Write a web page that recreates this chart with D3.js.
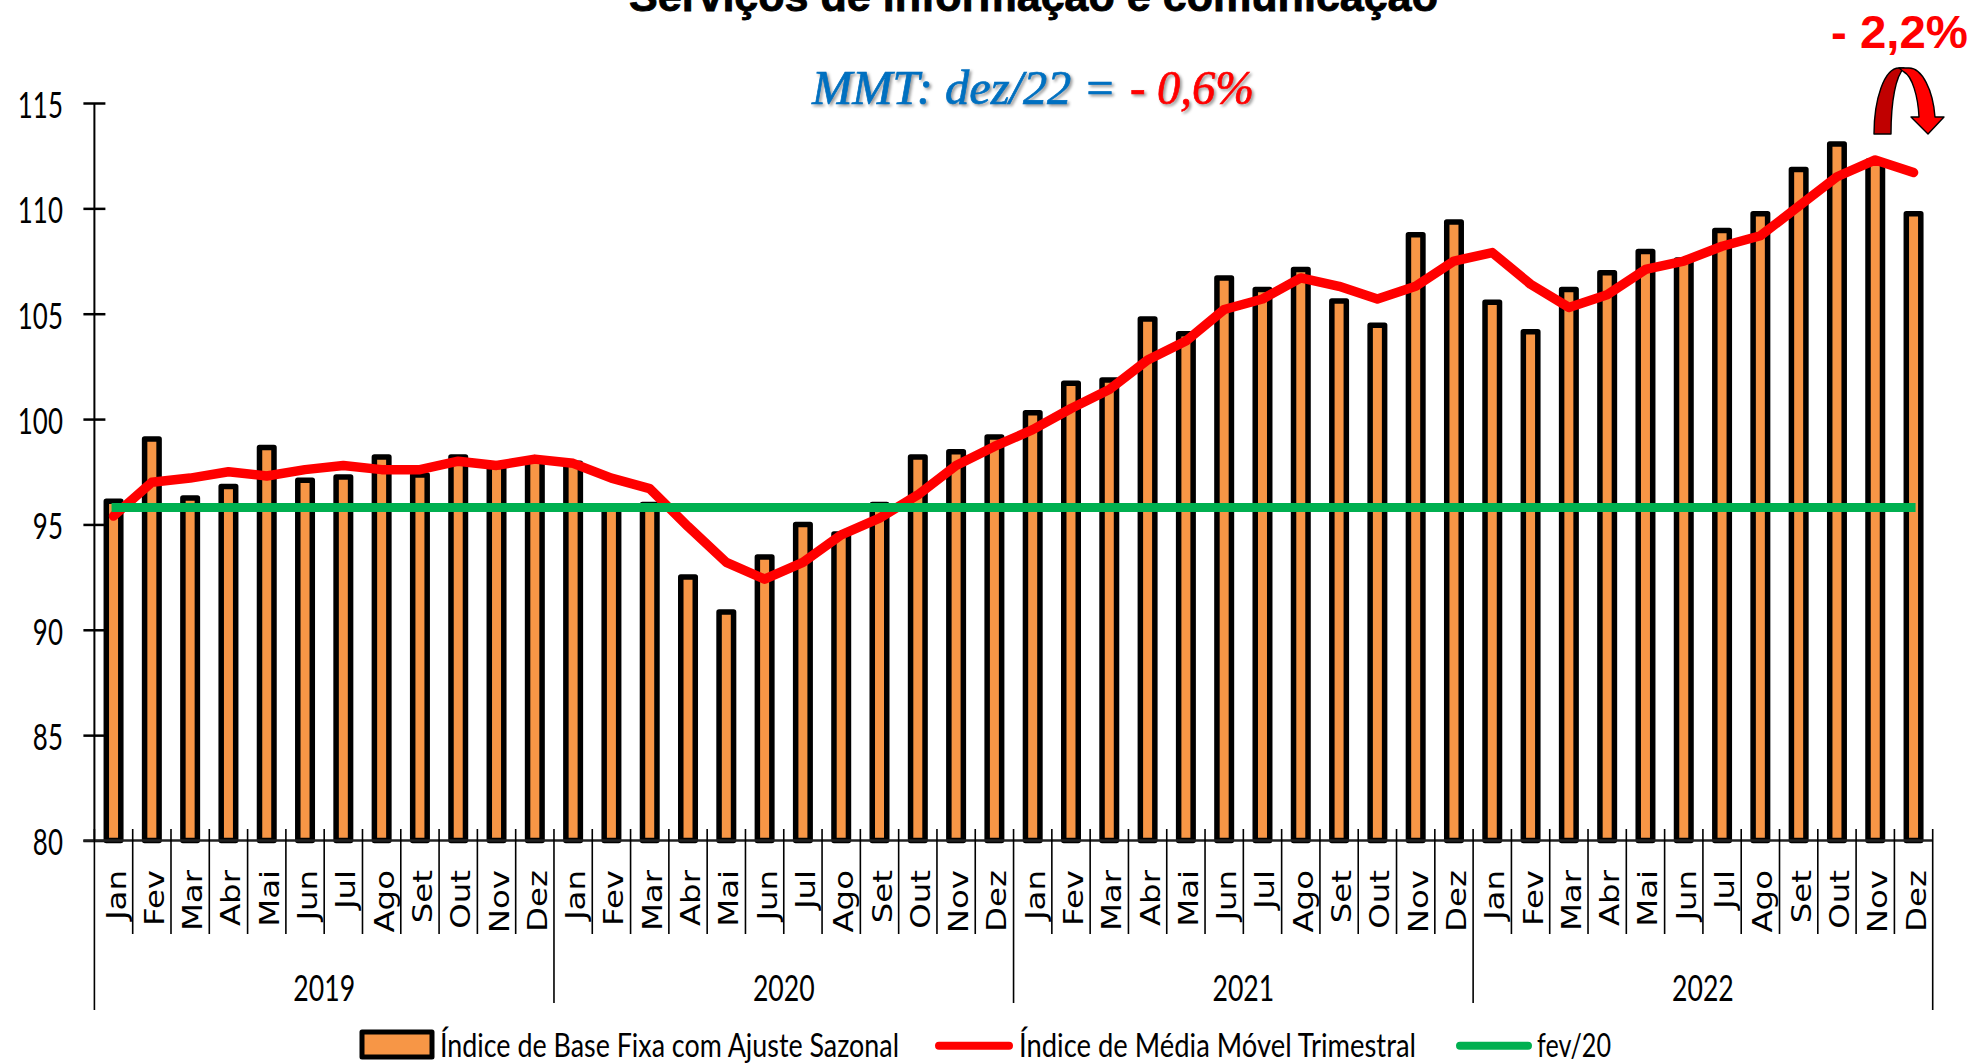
<!DOCTYPE html>
<html>
<head>
<meta charset="utf-8">
<script src="https://cdn.jsdelivr.net/npm/d3@7"></script>
<style>
	html, body { margin: 0; padding: 0; background: #fff; overflow: hidden; }
	svg { display: block; }
</style>
</head>
<body>
<script>
const width = 1973
const height = 1064

// Values
const months = ['Jan', 'Fev', 'Mar', 'Abr', 'Mai', 'Jun', 'Jul', 'Ago', 'Set', 'Out', 'Nov', 'Dez']
const years = ['2019', '2020', '2021', '2022']
const yTicks = [80, 85, 90, 95, 100, 105, 110, 115]
const fixedIndex = [
	96.1, 99.05, 96.25, 96.8, 98.65, 97.1, 97.25, 98.2, 97.35, 98.2, 97.75, 98.0,
	97.9, 95.8, 95.95, 92.5, 90.85, 93.45, 95.0, 94.55, 95.95, 98.2, 98.45, 99.15,
	100.3, 101.7, 101.85, 104.75, 104.05, 106.7, 106.15, 107.1, 105.6, 104.45, 108.75, 109.35,
	105.55, 104.15, 106.15, 106.95, 107.95, 107.55, 108.95, 109.75, 111.85, 113.05, 112.25, 109.75,
]
const movingAvg = [
	95.4, 97.0, 97.2, 97.5, 97.3, 97.6, 97.8, 97.6, 97.6, 98.0, 97.8, 98.1,
	97.9, 97.2, 96.7, 94.9, 93.2, 92.4, 93.2, 94.5, 95.3, 96.4, 97.8, 98.7,
	99.5, 100.5, 101.4, 102.8, 103.7, 105.2, 105.7, 106.7, 106.3, 105.7, 106.3, 107.5,
	107.9, 106.4, 105.3, 105.9, 107.1, 107.5, 108.2, 108.7, 110.1, 111.5, 112.3, 111.7,
]
const feb20Level = 95.8

const svg = d3.select('body').append('svg').attr('width', width).attr('height', height)

const orange = '#F79646'
const red = '#FF0000'
const green = '#00B050'
const blue = '#0070C0'

// Scales
const x = d3.scaleBand().domain(d3.range(fixedIndex.length)).range([94.4, 1932.7])
const y = d3.scaleLinear().domain([80, 115]).range([840.5, 103])
const barWidth = 14.5

// Bars
svg.selectAll('.bar')
	.data(fixedIndex)
	.enter()
	.append('rect')
	.attr('class', 'bar')
	.attr('x', (d, i) => x(i) + (x.bandwidth() - barWidth) / 2)
	.attr('y', d => y(d))
	.attr('width', barWidth)
	.attr('height', d => y(80) - y(d))
	.attr('fill', orange)
	.attr('stroke', '#000')
	.attr('stroke-width', 5.5)
	.attr('stroke-linejoin', 'round')

// Y axis
const yAxis = svg.append('g')
	.attr('transform', `translate(${x.range()[0]},0)`)
	.call(d3.axisLeft(y).tickValues(yTicks).tickSize(11))
yAxis.select('.domain').attr('stroke', '#000').attr('stroke-width', 2).attr('d', `M0,${y(115)}V${y(80)}`)
yAxis.selectAll('.tick line').attr('x1', -11).attr('x2', 11).attr('stroke', '#000').attr('stroke-width', 2.5)
yAxis.selectAll('.tick text')
	.attr('x', 0)
	.attr('dy', null)
	.attr('y', 0)
	.attr('dominant-baseline', 'central')
	.attr('transform', 'translate(-31.5,0) scale(0.7,1)')
	.attr('text-anchor', 'end')
	.style('font-family', 'Lato')
	.style('font-size', '37px')
	.attr('fill', '#000')

// X axis, months and years
svg.append('line')
	.attr('x1', x.range()[0] - 11).attr('x2', x.range()[1])
	.attr('y1', y(80)).attr('y2', y(80))
	.attr('stroke', '#222').attr('stroke-width', 2.5)

const step = x.step()
const tickTop = 829
d3.range(fixedIndex.length + 1).forEach(i => {
	const px = x.range()[0] + i * step
	let bottom = 934
	if (i % 12 === 0) bottom = 1003
	if (i === 0 || i === fixedIndex.length) bottom = 1010
	svg.append('line')
		.attr('x1', px).attr('x2', px)
		.attr('y1', tickTop).attr('y2', bottom)
		.attr('stroke', '#000').attr('stroke-width', 1.6)
})

svg.selectAll('.month')
	.data(fixedIndex)
	.enter()
	.append('text')
	.attr('class', 'month')
	.attr('transform', (d, i) => `translate(${x(i) + step / 2 + 12},870) rotate(-90) scale(1.2,1)`)
	.attr('text-anchor', 'end')
	.style('font-family', 'DejaVu Sans')
	.style('font-size', '27px')
	.text((d, i) => months[i % 12])

svg.selectAll('.year')
	.data(years)
	.enter()
	.append('text')
	.attr('class', 'year')
	.attr('transform', (d, i) => `translate(${x.range()[0] + (i * 12 + 6) * step},1001) scale(0.72,1)`)
	.attr('text-anchor', 'middle')
	.style('font-family', 'Lato')
	.style('font-size', '37px')
	.text(d => d)

// Lines
const line = d3.line().x((d, i) => x(i) + step / 2).y(d => y(d))
svg.append('path')
	.attr('d', line(movingAvg))
	.attr('fill', 'none')
	.attr('stroke', red)
	.attr('stroke-width', 9.5)
	.attr('stroke-linecap', 'round')
	.attr('stroke-linejoin', 'round')

svg.append('line')
	.attr('x1', x(0) + step / 2 - 2)
	.attr('x2', x(fixedIndex.length - 1) + step / 2 + 2)
	.attr('y1', y(feb20Level))
	.attr('y2', y(feb20Level))
	.attr('stroke', green)
	.attr('stroke-width', 9)

// Fitted text helper, the source squeezes its labels a lot
function fitted(txt, x0, x1, baseline, size, family, color, weight, italic) {
	return svg.append('text')
		.attr('x', x0)
		.attr('y', baseline)
		.attr('textLength', x1 - x0)
		.attr('lengthAdjust', 'spacingAndGlyphs')
		.style('font-family', family)
		.style('font-size', size + 'px')
		.style('font-weight', weight || 'normal')
		.style('font-style', italic ? 'italic' : 'normal')
		.attr('fill', color)
		.text(txt)
}

// Title, clipped by the top of the picture in the source too
fitted('Serviços de informação e comunicação', 629, 1438, 11, 42, 'Liberation Sans', '#000', 'bold')
	.attr('stroke', '#000').attr('stroke-width', 0.8)

// Annotations
const shadow = 'drop-shadow(2px 2px 1.5px rgba(0,0,0,0.4))'
fitted('MMT: dez/22 =', 812, 1116, 104, 48, 'Liberation Serif', blue, 'normal', true)
	.attr('stroke', blue).attr('stroke-width', 0.7).style('filter', shadow)
fitted('- 0,6%', 1130, 1254, 104, 48, 'Liberation Serif', red, 'normal', true)
	.attr('stroke', red).attr('stroke-width', 0.7).style('filter', shadow)
fitted('- 2,2%', 1831, 1968, 48, 46, 'Liberation Sans', red, 'bold')

// Curved arrow over the last months
const arrow = svg.append('g').attr('stroke', '#000').attr('stroke-width', 1.4).attr('stroke-linejoin', 'round')
arrow.append('path')
	.attr('d', 'M1874,134 C1874,100 1884,68 1899,68 L1904,68 C1896,76 1891,100 1891,134 Z')
	.attr('fill', '#C00000')
arrow.append('path')
	.attr('d', 'M1899,68 L1909,68 C1922,68 1933,90 1935,117 L1944,117 L1928,134 L1911,117 L1919,117 C1918,96 1912,76 1904,72 Z')
	.attr('fill', red)

// Legend
svg.append('rect')
	.attr('x', 362).attr('y', 1032)
	.attr('width', 70).attr('height', 25)
	.attr('fill', orange).attr('stroke', '#000').attr('stroke-width', 5).attr('stroke-linejoin', 'round')
fitted('Índice de Base Fixa com Ajuste Sazonal', 440, 899, 1057, 32, 'Lato', '#000')
svg.append('line')
	.attr('x1', 939).attr('x2', 1009).attr('y1', 1045.7).attr('y2', 1045.7)
	.attr('stroke', red).attr('stroke-width', 8).attr('stroke-linecap', 'round')
fitted('Índice de Média Móvel Trimestral', 1019, 1416, 1057, 32, 'Lato', '#000')
svg.append('line')
	.attr('x1', 1460).attr('x2', 1528).attr('y1', 1045.7).attr('y2', 1045.7)
	.attr('stroke', green).attr('stroke-width', 8).attr('stroke-linecap', 'round')
fitted('fev/20', 1537, 1611, 1057, 32, 'Lato', '#000')
</script>
</body>
</html>
